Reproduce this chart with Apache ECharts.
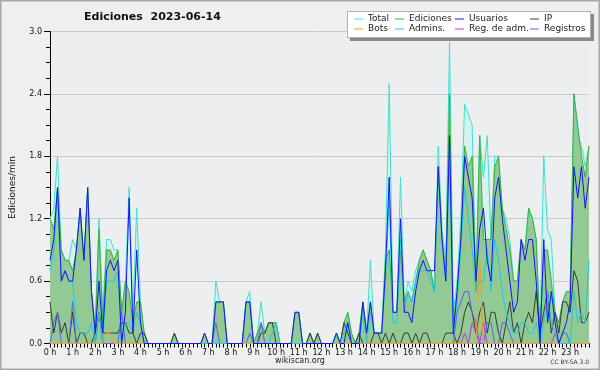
<!DOCTYPE html>
<html><head><meta charset="utf-8">
<script src="https://cdn.jsdelivr.net/npm/echarts@6/dist/echarts.min.js"></script>
<style>html,body{margin:0;padding:0;background:#efefef}#c{width:600px;height:370px}</style>
</head><body><div id="c"></div>
<script>
// tick labels (one per hour) ; data every 10 minutes (144 points)
const hourLabels = ['0 h','1 h','2 h','3 h','4 h','5 h','6 h','7 h','8 h','9 h','10 h','11 h','12 h','13 h','14 h','15 h','16 h','17 h','18 h','19 h','20 h','21 h','22 h','23 h'];
const seriesNames = ['Total','Ediciones','Usuarios','IP','Bots','Admins.','Reg. de adm.','Registros'];

const total = [
1.2,1.3,1.8,0.9,0.8,0.8, 1.0,0.9,1.3,0.8,1.5,0.5, 0.2,1.2,0.3,1.0,1.0,0.9, 0.9,0.3,0.6,1.5,0.3,1.3,
0.4,0.1,0,0,0,0, 0,0,0,0.1,0,0, 0,0,0,0,0,0.1, 0,0,0.6,0.4,0.4,0, 0,0,0,0,0.4,0.5, 0,0.1,0.4,0.1,0.2,0.2,
0.2,0,0,0,0,0.3, 0.3,0,0,0.1,0,0.1, 0,0,0,0,0.1,0, 0.2,0.3,0.1,0,0.1,0.4, 0.1,0.8,0.1,0.1,0.1,0.9, 2.5,0.3,0.3,1.6,0.4,0.6,
0.5,0.7,0.8,0.9,0.8,0.7, 0.5,1.9,1.1,0.8,2.9,0.3, 0.6,1.2,2.3,2.2,2.1,0.6, 2.0,1.6,2.0,1.0,1.8,1.8, 1.3,1.2,1.0,0.6,0.6,1.0, 0.9,1.3,1.2,1.0,0.1,1.8,
1.1,1.0,0.3,0.2,0.4,0.5, 0.5,2.4,2.0,1.9,1.7,1.9];
const ediciones = [
1.2,1.1,1.5,0.9,0.8,0.8, 0.7,0.9,1.3,0.8,1.5,0.5, 0.1,1.1,0.2,0.9,0.9,0.8, 0.9,0.3,0.6,0.5,0.2,0.4,
0.4,0.1,0,0,0,0, 0,0,0,0.1,0,0, 0,0,0,0,0,0.1, 0,0,0.4,0.4,0.4,0, 0,0,0,0,0.4,0.4, 0,0.1,0.2,0.1,0.2,0.2,
0.2,0,0,0,0,0.3, 0.3,0,0,0.1,0,0.1, 0,0,0,0,0.1,0, 0.2,0.3,0.1,0,0.1,0.4, 0.1,0.4,0.1,0.1,0.1,0.8, 0.9,0.3,0.3,0.9,0.4,0.5,
0.4,0.6,0.8,0.9,0.8,0.7, 0.5,1.7,1.0,0.7,2.4,0.2, 0.5,1.0,1.9,1.7,1.8,0.5, 2.0,1.0,1.0,1.0,1.7,1.8, 1.3,1.1,0.9,0.6,0.6,1.0, 0.9,1.3,1.2,1.0,0.1,0.9,
0.9,0.6,0.3,0.2,0.4,0.5, 0.5,2.4,2.1,1.8,1.6,1.9];
const usuarios = [
0.8,1.0,1.5,0.6,0.7,0.6, 0.6,0.9,1.3,0.8,1.5,0.5, 0.1,0.6,0.1,0.7,0.8,0.7, 0.8,0,0.3,1.4,0.1,0.9,
0.2,0,0,0,0,0, 0,0,0,0,0,0, 0,0,0,0,0,0.1, 0,0,0.4,0.4,0.4,0, 0,0,0,0,0.4,0.4, 0,0,0,0,0,0,
0,0,0,0,0,0.3, 0.3,0,0,0,0,0, 0,0,0,0,0.1,0, 0,0.2,0,0,0,0.4, 0.1,0.4,0.1,0.1,0.1,0.7, 1.6,0.3,0.3,1.2,0.3,0.3,
0.2,0.5,0.7,0.8,0.7,0.7, 0.7,1.7,1.0,0.6,2.0,0.1, 0.5,1.0,1.8,1.6,1.4,0.6, 1.1,1.3,0.8,0.6,1.4,1.6, 1.2,0.9,0.6,0.3,0.4,1.0, 0.8,1.0,1.0,0.6,0,1.0,
0.2,0.5,0.2,0,0.1,0.2, 0.4,1.7,1.4,1.7,1.3,1.6];
const ip = [
0.4,0.1,0.3,0.1,0.2,0, 0.3,0,0.1,0.1,0,0, 0.1,0.3,0.1,0.1,0.1,0.1, 0.1,0.2,0.2,0.1,0.1,0,
0.1,0.1,0,0,0,0, 0,0,0,0.1,0,0, 0,0,0,0,0,0, 0,0,0,0,0,0, 0,0,0,0,0,0, 0,0,0.1,0.1,0.2,0.2,
0,0,0,0,0,0, 0,0,0,0.1,0,0.1, 0,0,0,0,0,0, 0.2,0.1,0,0,0.1,0, 0,0,0.1,0.1,0,0.1, 0,0.1,0,0,0.1,0.1,
0,0.1,0,0.1,0.1,0, 0,0,0,0.1,0.1,0.1, 0,0.1,0.3,0.4,0.3,0.1, 0.3,0.4,0.1,0.3,0.3,0.1, 0,0.2,0.4,0.1,0.2,0, 0.2,0.3,0.2,0.5,0.1,0.3,
0.5,0.1,0.3,0.1,0.4,0.4, 0.3,0.7,0.6,0.2,0.2,0.3];
const bots = [
0,0,0,0,0,0, 0,0,0,0,0,0, 0,0,0,0.1,0.1,0, 0,0,0,0,0,0,
0,0,0,0,0,0, 0,0,0,0,0,0, 0,0,0,0,0,0.1, 0,0,0,0,0,0, 0,0,0,0,0,0, 0,0,0,0,0,0,
0,0,0,0,0,0, 0,0,0,0,0,0, 0,0,0,0,0,0, 0,0,0,0,0,0, 0,0,0,0,0,0, 0,0,0,0,0,0,
0,0,0,0,0,0, 0,0,0,0,0,0, 0,0,0,0,0,0, 0.8,0,0,0,0,0, 0,0,0,0,0,0, 0,0,0,0,0,0,
0,0,0,0,0,0, 0,0,0,0,0,0];
const admins = [
0.7,0.9,1.5,0.6,0.7,0.6, 0.6,0.2,0.1,0.1,0.1,0.2, 0,0.3,0,0.6,0.6,0.6, 0.7,0,0.2,0.2,0.1,0.3,
0.2,0,0,0,0,0, 0,0,0,0,0,0, 0,0,0,0,0,0, 0,0,0,0,0,0, 0,0,0,0,0.4,0.4, 0,0,0,0,0,0.1,
0.2,0,0,0,0,0, 0,0,0,0,0,0, 0,0,0,0,0.1,0, 0.1,0.2,0,0,0,0.3, 0,0.3,0.1,0.1,0.1,0.6, 1.4,0.2,0.2,1.0,0.3,0.5,
0.4,0.6,0.7,0.7,0.7,0.6, 0.5,1.7,1.0,0.6,1.9,0.1, 0.4,0.9,1.5,1.2,0.9,0.5, 0.6,0.6,0.9,0.5,1.0,0.8, 0.5,0.3,0.2,0.1,0.1,0.2, 0.2,0.1,0.1,0.2,0,0.2,
0.5,0.2,0.1,0,0,0, 0,0.5,0.2,0.3,0.2,0.8];
const regAdm = [
0,0,0,0,0,0, 0,0,0,0,0,0, 0,0,0,0,0,0, 0,0,0,0,0,0,
0,0,0,0,0,0, 0,0,0,0,0,0, 0,0,0,0,0,0, 0,0,0,0,0,0, 0,0,0,0,0,0, 0,0,0,0,0,0,
0,0,0,0,0,0, 0,0,0,0,0,0, 0,0,0,0,0,0, 0,0,0,0,0,0, 0,0,0,0,0,0, 0,0,0,0,0,0,
0,0,0,0,0,0, 0,0,0,0,0,0, 0,0,0.1,0,0.2,0.1, 0,0.2,0,0,0,0, 0,0,0,0,0,0, 0,0,0,0,0,0,
0,0,0.1,0,0,0, 0,0,0,0,0,0];
const registros = [
0,0.2,0.3,0,0,0, 0.4,0,0,0,0,0, 0,0.3,0,0,0,0, 0,0.3,0,0,0,0,
0,0,0,0,0,0, 0,0,0,0,0,0, 0,0,0,0,0,0, 0,0,0.2,0,0,0, 0,0,0,0,0,0.1, 0,0,0.2,0,0,0,
0,0,0,0,0,0, 0,0,0,0,0,0, 0,0,0,0,0,0, 0,0,0,0,0,0, 0,0,0,0,0,0, 0,0,0,0,0,0,
0,0,0,0,0,0, 0,0,0,0,0,0, 0.3,0.4,0.5,0.5,0.3,0.2, 0,0,0.2,0.2,0,0, 0.2,0.2,0.1,0,0,0, 0,0,0,0,0,0,
0,0,0,0,0.1,0.1, 0,0,0,0,0,0];

// categories: one per 10 minutes, label only on the hour
const categories = [];
for (let h = 0; h < 24; h++) for (let m = 0; m < 6; m++) categories.push(m === 0 ? hourLabels[h] : '');

const colors = {
  'Total': '#40e0d0', 'Ediciones': '#3cb03c', 'Usuarios': '#1515f0', 'IP': '#3a3a3a',
  'Bots': '#f5a020', 'Admins.': '#20c8e8', 'Reg. de adm.': '#cc30e0', 'Registros': '#6060f0'
};
const FONT = 'DejaVu Sans';

function lineSeries(name, data, extra) {
  return Object.assign({
    name: name, type: 'line', data: data, showSymbol: false, symbol: 'none',
    color: colors[name], lineStyle: { width: 1, color: colors[name] }, animation: false
  }, extra || {});
}

const series = [
  lineSeries('Total', total, { areaStyle: { color: '#d6f2ed', opacity: 1 } }),
  lineSeries('Ediciones', ediciones, { areaStyle: { color: '#93c993', opacity: 1 } }),
  lineSeries('IP', ip),
  lineSeries('Registros', registros),
  lineSeries('Reg. de adm.', regAdm),
  lineSeries('Bots', bots),
  lineSeries('Admins.', admins),
  lineSeries('Usuarios', usuarios)
];

function legendCol(left, names) {
  return {
    orient: 'vertical', left: left, top: 14, padding: 0, itemGap: 0,
    itemWidth: 9, itemHeight: 1, icon: 'rect', selectedMode: false, z: 30,
    textStyle: { fontFamily: FONT, fontSize: 9, color: '#222', lineHeight: 10 },
    data: names
  };
}

const chart = echarts.init(document.getElementById('c'), null, { renderer: 'canvas' });
chart.setOption({
  backgroundColor: '#efefef',
  animation: false,
  title: {
    text: 'Ediciones  2023-06-14', left: 84, top: 12, padding: 0,
    textStyle: { fontFamily: FONT, fontWeight: 'bold', fontSize: 11, color: '#111' }
  },
  grid: { left: 46, right: 11, top: 31.5, bottom: 26.5, show: true, backgroundColor: '#eceef0', borderWidth: 0 },
  xAxis: {
    type: 'category', data: categories, boundaryGap: false,
    axisLine: { lineStyle: { color: '#000', width: 1 } },
    axisTick: { show: true, interval: 0, length: 4, lineStyle: { color: '#000' } },
    axisLabel: { interval: 0, margin: 5, fontFamily: FONT, fontSize: 8, color: '#111' },
    splitLine: { show: false }
  },
  yAxis: {
    type: 'value', min: 0, max: 3, interval: 0.6,
    name: 'Ediciones/min', nameLocation: 'middle', nameGap: 33,
    nameTextStyle: { fontFamily: FONT, fontSize: 9, color: '#111' },
    axisLine: { show: true, lineStyle: { color: '#000' } },
    axisTick: { show: true, length: 6, lineStyle: { color: '#000' } },
    minorTick: { show: true, splitNumber: 4, length: 4, lineStyle: { color: '#000' } },
    axisLabel: { margin: 8, fontFamily: FONT, fontSize: 8, color: '#111', formatter: v => v.toFixed(1) },
    splitLine: { show: true, lineStyle: { color: '#cacaca', width: 1 } }
  },
  legend: [
    legendCol(354, ['Total', 'Bots']),
    legendCol(395, ['Ediciones', 'Admins.']),
    legendCol(455, ['Usuarios', 'Reg. de adm.']),
    legendCol(530, ['IP', 'Registros'])
  ],
  graphic: [
    { type: 'rect', z: 100, silent: true, shape: { x: 0.75, y: 0.75, width: 598.5, height: 368.5 }, style: { fill: 'none', stroke: '#a8a8a8', lineWidth: 1.5 } },
    { type: 'rect', z: 20, silent: true, shape: { x: 350, y: 14, width: 244, height: 27 }, style: { fill: '#8a8a8a' } },
    { type: 'rect', z: 21, silent: true, shape: { x: 347.5, y: 11.5, width: 243, height: 26 }, style: { fill: '#ffffff', stroke: '#b0b0b0', lineWidth: 1 } },
    { type: 'text', z: 30, silent: true, style: { text: 'wikiscan.org', x: 300, y: 361, align: 'center', verticalAlign: 'middle', font: '8px "DejaVu Sans"', fill: '#222' } },
    { type: 'text', z: 30, silent: true, style: { text: 'CC BY-SA 3.0', x: 589, y: 362, align: 'right', verticalAlign: 'middle', font: '6px "DejaVu Sans"', fill: '#333' } }
  ],
  series: series
});
</script>
</body></html>
